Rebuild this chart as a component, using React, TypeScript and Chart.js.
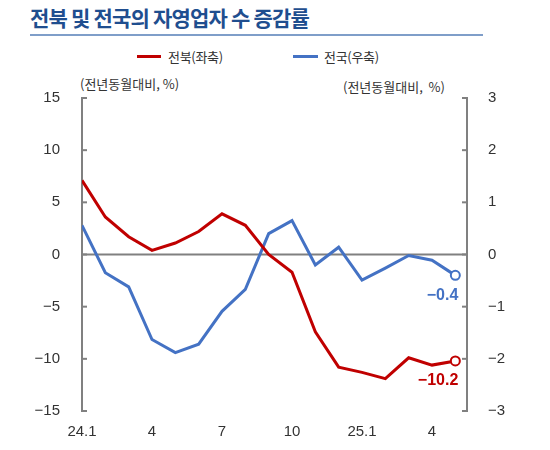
import React, { useEffect, useRef } from "react";
import { Chart, registerables } from "chart.js";

Chart.register(...registerables);

// monthly, 24.1 ~ 25.5
const months = [
  "24.1", "24.2", "24.3", "24.4", "24.5", "24.6", "24.7", "24.8", "24.9",
  "24.10", "24.11", "24.12", "25.1", "25.2", "25.3", "25.4", "25.5",
];
const tickLabels = ["24.1", "4", "7", "10", "25.1", "4"];
const tickIndex = [0, 3, 6, 9, 12, 15];

// 전북(좌축), 전년동월대비 %
const jeonbuk = [7.1, 3.6, 1.7, 0.4, 1.1, 2.2, 3.9, 2.8, 0.0, -1.7, -7.4, -10.8, -11.3, -11.9, -9.9, -10.6, -10.2];
// 전국(우축), 전년동월대비 %
const national = [0.56, -0.35, -0.62, -1.63, -1.88, -1.72, -1.09, -0.67, 0.4, 0.65, -0.2, 0.14, -0.49, -0.26, -0.02, -0.11, -0.4];

const RED = "#c00000";
const BLUE = "#4472c4";
const AXIS = "#808080";
const TEXT = "#333333";
const NUM_FONT = "'Liberation Sans', Arial, sans-serif";
const KR_FONT = "'Noto Sans CJK KR', 'Noto Sans', sans-serif";

const minus = (v: number | string) => String(v).replace("-", "\u2212");

const decor = {
  id: "decor",
  beforeDatasetsDraw(chart: any) {
    const { ctx, chartArea, scales } = chart;
    const y = scales.y;
    const y1 = scales.y1;
    ctx.save();
    ctx.strokeStyle = AXIS;
    ctx.lineWidth = 2;
    const z = y.getPixelForValue(0);
    ctx.beginPath();
    ctx.moveTo(chartArea.left, z);
    ctx.lineTo(chartArea.right, z);
    ctx.stroke();
    // inward tick marks
    y.ticks.forEach((t: any) => {
      const py = y.getPixelForValue(t.value);
      ctx.beginPath();
      ctx.moveTo(chartArea.left, py);
      ctx.lineTo(chartArea.left + 5, py);
      ctx.stroke();
    });
    y1.ticks.forEach((t: any) => {
      const py = y1.getPixelForValue(t.value);
      ctx.beginPath();
      ctx.moveTo(chartArea.right, py);
      ctx.lineTo(chartArea.right - 5, py);
      ctx.stroke();
    });
    ctx.restore();
  },
  afterDatasetsDraw(chart: any) {
    const { ctx } = chart;
    ctx.save();
    ctx.font = `bold 16px ${NUM_FONT}`;
    ctx.textAlign = "right";
    ctx.textBaseline = "middle";
    chart.data.datasets.forEach((ds: any, i: number) => {
      const meta = chart.getDatasetMeta(i);
      const last = meta.data[meta.data.length - 1];
      const v = ds.data[ds.data.length - 1].y;
      ctx.fillStyle = ds.borderColor;
      ctx.fillText(minus(v.toFixed(1)), last.x + 3, last.y + 20);
    });
    ctx.restore();
  },
};

const App = () => {
  const ref = useRef<HTMLCanvasElement | null>(null);

  useEffect(() => {
    if (!ref.current) return;
    const lastIdx = months.length - 1;
    const pointR = (c: any) => (c.dataIndex === lastIdx ? 4.5 : 0);
    const chart = new Chart(ref.current, {
      type: "line",
      data: {
        datasets: [
          {
            label: "전북(좌축)",
            data: jeonbuk.map((v, i) => ({ x: i, y: v })),
            borderColor: RED,
            borderWidth: 3,
            yAxisID: "y",
            pointRadius: pointR,
            pointBackgroundColor: "#ffffff",
            pointBorderColor: RED,
            pointBorderWidth: 2,
            tension: 0,
          },
          {
            label: "전국(우축)",
            data: national.map((v, i) => ({ x: i, y: v })),
            borderColor: BLUE,
            borderWidth: 3,
            yAxisID: "y1",
            pointRadius: pointR,
            pointBackgroundColor: "#ffffff",
            pointBorderColor: BLUE,
            pointBorderWidth: 2,
            tension: 0,
          },
        ],
      },
      options: {
        animation: false,
        responsive: true,
        maintainAspectRatio: false,
        layout: { padding: { top: 98, left: 0, right: 0, bottom: 0 } },
        plugins: { legend: { display: false }, tooltip: { enabled: false } },
        scales: {
          x: {
            type: "linear",
            min: 0,
            max: 16.5,
            grid: { display: false },
            border: { display: false },
            afterBuildTicks: (s: any) => {
              s.ticks = tickIndex.map((v) => ({ value: v }));
            },
            afterFit: (s: any) => {
              s.height = 39;
            },
            ticks: {
              padding: 4,
              maxRotation: 0,
              autoSkip: false,
              color: TEXT,
              font: { family: NUM_FONT, size: 15 },
              callback: (v: any) => tickLabels[tickIndex.indexOf(Number(v))] ?? "",
            },
          },
          y: {
            position: "left",
            min: -15,
            max: 15,
            grid: { display: false },
            border: { display: true, color: AXIS, width: 2 },
            afterFit: (s: any) => {
              s.width = 82;
            },
            ticks: {
              stepSize: 5,
              padding: 14,
              color: TEXT,
              font: { family: NUM_FONT, size: 15 },
              callback: (v: any) => minus(v),
            },
          },
          y1: {
            position: "right",
            min: -3,
            max: 3,
            grid: { display: false },
            border: { display: true, color: AXIS, width: 2 },
            afterFit: (s: any) => {
              s.width = 83;
            },
            ticks: {
              stepSize: 1,
              padding: 13,
              color: TEXT,
              font: { family: NUM_FONT, size: 15 },
              callback: (v: any) => minus(v),
            },
          },
        },
      },
      plugins: [decor],
    });
    return () => chart.destroy();
  }, []);

  const unit: React.CSSProperties = {
    position: "absolute",
    fontFamily: KR_FONT,
    fontSize: 13,
    color: TEXT,
    whiteSpace: "nowrap",
    lineHeight: "16px",
  };
  const legendText: React.CSSProperties = {
    fontFamily: KR_FONT,
    fontSize: 13,
    color: TEXT,
    letterSpacing: -0.3,
  };

  return (
    <div style={{ position: "fixed", left: 0, top: 0, width: 550, height: 450, background: "#fff" }}>
      <div
        style={{
          position: "absolute",
          left: 30,
          top: 2,
          fontFamily: KR_FONT,
          fontWeight: 700,
          fontSize: 21,
          letterSpacing: -0.8,
          color: "#1f4e8f",
          whiteSpace: "nowrap",
          lineHeight: "30px",
        }}
      >
        전북 및 전국의 자영업자 수 증감률
      </div>
      <div style={{ position: "absolute", left: 30, top: 34, width: 453, height: 1.5, background: "#7f9ec9" }} />
      <div style={{ position: "absolute", left: 137, top: 47, display: "flex", alignItems: "center", height: 18 }}>
        <span style={{ display: "inline-block", width: 24, height: 3, background: RED, marginRight: 7 }} />
        <span style={legendText}>전북(좌축)</span>
      </div>
      <div style={{ position: "absolute", left: 293, top: 47, display: "flex", alignItems: "center", height: 18 }}>
        <span style={{ display: "inline-block", width: 25, height: 3, background: BLUE, marginRight: 6 }} />
        <span style={legendText}>전국(우축)</span>
      </div>
      <div style={{ ...unit, left: 80, top: 76 }}>(전년동월대비, %)</div>
      <div style={{ ...unit, left: 343, top: 79 }}>(전년동월대비,&nbsp; %)</div>
      <canvas ref={ref} style={{ position: "absolute", left: 0, top: 0, width: 550, height: 450 }} />
    </div>
  );
};

export default App;
